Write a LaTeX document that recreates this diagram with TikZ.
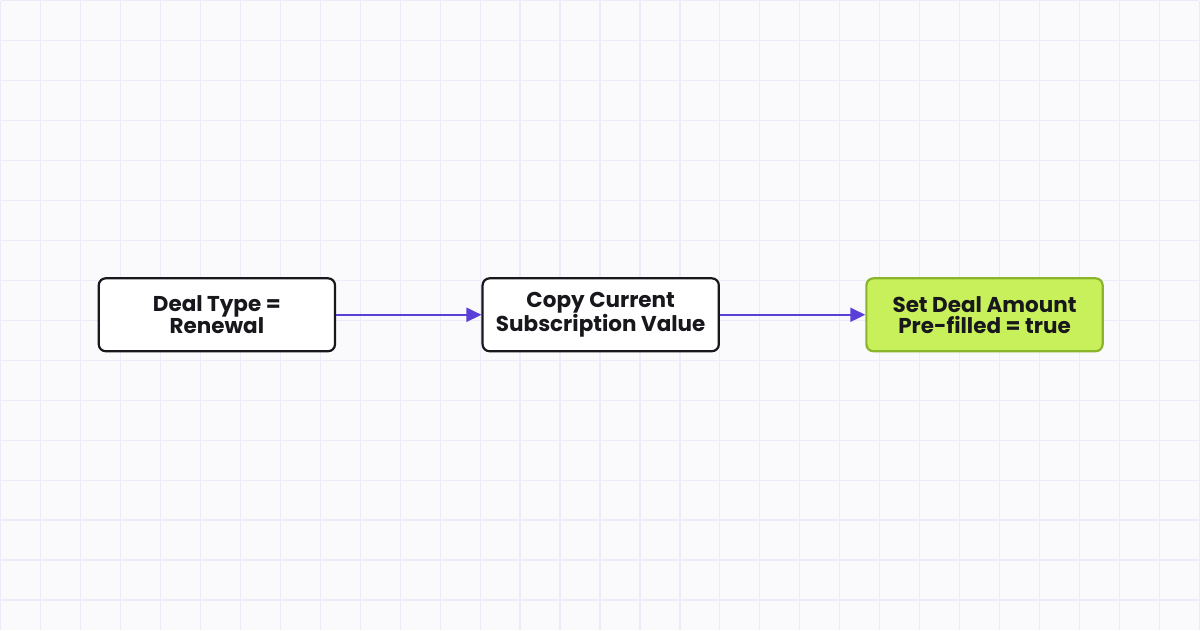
\documentclass[tikz,border=0pt]{standalone}
\usepackage{fontspec}
\setmainfont{Poppins}
\usetikzlibrary{positioning,arrows.meta}
\definecolor{bgpaper}{HTML}{FAFAFD}
\definecolor{gridline}{HTML}{EDEBF7}
\definecolor{flowpurple}{HTML}{5B3FD9}
\definecolor{boxink}{HTML}{17171C}
\definecolor{limefill}{HTML}{C8F05A}
\definecolor{limeedge}{HTML}{8AB52A}
\tikzset{
  stepbox/.style={draw=boxink, line width=2.2pt, fill=white, rounded corners=7pt,
    minimum width=236.5pt, minimum height=73pt, inner sep=0pt, align=center,
    font=\fontsize{21.5}{21}\selectfont\bfseries, text=boxink},
  donebox/.style={stepbox, draw=limeedge, fill=limefill},
  flow/.style={draw=flowpurple, line width=2pt, -{Triangle[length=15pt,width=14pt]}}
}
\begin{document}
\begin{tikzpicture}[x=1pt,y=1pt]
  % paper and grid
  \fill[bgpaper] (0,0) rectangle (1200,630);
  \foreach \gx in {0,40,...,1200}
    \draw[gridline, line width=1.2pt] (\gx,0) -- (\gx,630);
  \foreach \gy in {30,70,...,630}
    \draw[gridline, line width=1.2pt] (0,\gy) -- (1200,\gy);
  \useasboundingbox (0,0) rectangle (1200,630);
  % steps
  \node[stepbox] (renewal) at (216.5,315.5) {Deal Type =\\Renewal};
  \node[stepbox, right=145.5pt of renewal] (copyvalue) {Copy Current\\Subscription Value};
  \node[donebox, right=145.5pt of copyvalue] (prefill) {Set Deal Amount\\Pre-filled = true};
  % arrows
  \draw[flow] (renewal) -- (copyvalue);
  \draw[flow] (copyvalue) -- (prefill);
\end{tikzpicture}
\end{document}
